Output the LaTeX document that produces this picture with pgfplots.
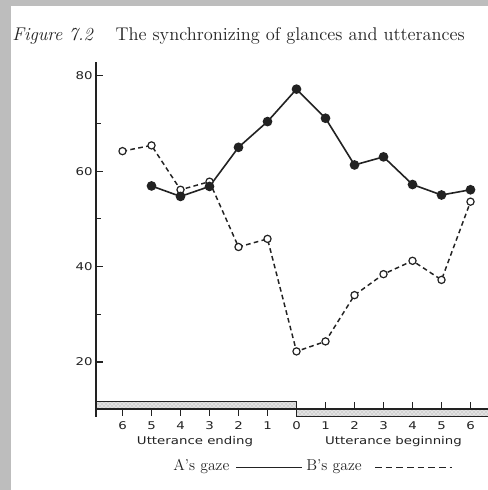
\documentclass[border=0pt]{standalone}
\usepackage{fontspec}
\usepackage{pgfplots}
\pgfplotsset{compat=1.18}
\usetikzlibrary{patterns}
\newfontfamily\lab[FakeStretch=1.25]{DejaVu Sans}
\definecolor{bordergray}{HTML}{BDBDBD}
\definecolor{bandgray}{HTML}{E2E2E2}
\definecolor{ink}{HTML}{222222}

\begin{document}
\begin{tikzpicture}
\begin{scope}[x=0.75pt,y=0.75pt]
\fill[bordergray] (0,0) rectangle (488,490);
\fill[white] (11,0) rectangle (488,484);
\node[anchor=base west, inner sep=0, font=\fontsize{13.8}{16}\selectfont, text=ink] at (12,449) {\textit{Figure 7.2}\hspace{1.2em}The synchronizing of glances and utterances};
% legend
\node[anchor=base west, inner sep=0, font=\fontsize{11.8}{14}\selectfont, text=ink] at (173,19) {A's gaze};
\draw[ink, line width=0.8pt] (236,22.5) -- (302,22.5);
\node[anchor=base west, inner sep=0, font=\fontsize{11.8}{14}\selectfont, text=ink] at (306,19) {B's gaze};
\draw[ink, line width=0.9pt, dash pattern=on 5pt off 3pt] (375,22.5) -- (452,22.5);
\end{scope}

\begin{axis}[
  at={(72pt,55.125pt)}, anchor=south west,
  scale only axis, width=294pt, height=265.9pt,
  xmin=-6.914, xmax=6.603, ymin=8.55, ymax=82.9,
  hide x axis, axis y line*=left,
  ytick={20,40,60,80}, minor ytick={30,50,70},
  tick align=inside, major tick length=5.5pt, minor tick length=3.5pt,
  tick style={ink, line width=0.9pt},
  y axis line style={ink, line width=1pt},
  /pgf/number format/assume math mode=true,
  yticklabel style={font=\lab\fontsize{8}{9}\selectfont, text=ink, xshift=1pt},
  clip=false,
]
% bands
\fill[bandgray] (axis cs:0,10.15) rectangle (axis cs:6.603,8.55);
\fill[pattern=crosshatch dots, pattern color=gray!80] (axis cs:0,10.15) rectangle (axis cs:6.603,8.55);
\draw[ink, line width=1pt] (axis cs:6.603,10.15) -- (axis cs:0,10.15) -- (axis cs:0,8.55) -- (axis cs:6.603,8.55);
\fill[bandgray] (axis cs:-6.914,11.72) rectangle (axis cs:0,10.15);
\fill[pattern=crosshatch dots, pattern color=gray!80] (axis cs:-6.914,11.72) rectangle (axis cs:0,10.15);
\draw[ink, line width=1pt] (axis cs:-6.914,11.72) rectangle (axis cs:0,10.15);
% x ticks
\pgfplotsinvokeforeach{1,...,6}{
  \draw[ink, line width=0.8pt] (axis cs:-#1,10.15) -- ([yshift=-5pt]axis cs:-#1,10.15);
  \draw[ink, line width=0.8pt] (axis cs:#1,10.15) -- ([yshift=5pt]axis cs:#1,10.15);
  \node[font=\lab\fontsize{8}{9}\selectfont, text=ink] at (axis cs:-#1,6.69) {#1};
  \node[font=\lab\fontsize{8}{9}\selectfont, text=ink] at (axis cs:#1,6.69) {#1};
}
\node[font=\lab\fontsize{8}{9}\selectfont, text=ink] at (axis cs:0,6.69) {0};
\node[font=\lab\fontsize{8}{9}\selectfont, text=ink] at (axis cs:-3.5,3.33) {Utterance ending};
\node[font=\lab\fontsize{8}{9}\selectfont, text=ink] at (axis cs:3.345,3.33) {Utterance beginning};

% B's gaze (dashed, open circles)
\addplot[ink, line width=1.1pt, dash pattern=on 3.5pt off 2.5pt,
  mark=*, mark size=2.7pt, mark options={solid, fill=white, line width=0.9pt}]
  coordinates {(-6,64.2)(-5,65.4)(-4,56.1)(-3,57.8)(-2,44.1)(-1,45.8)(0,22.2)(1,24.3)(2,34.0)(3,38.4)(4,41.2)(5,37.2)(6,53.6)};
% A's gaze (solid, filled circles)
\addplot[ink, line width=1.2pt, mark=*, mark size=3pt, mark options={fill=ink}]
  coordinates {(-5,56.9)(-4,54.7)(-3,56.8)(-2,65.0)(-1,70.4)(0,77.2)(1,71.1)(2,61.3)(3,63.0)(4,57.2)(5,55.0)(6,56.1)};
\end{axis}
\pgfresetboundingbox
\path[use as bounding box] (0,0) rectangle (366pt,367.5pt);
\end{tikzpicture}
\end{document}
